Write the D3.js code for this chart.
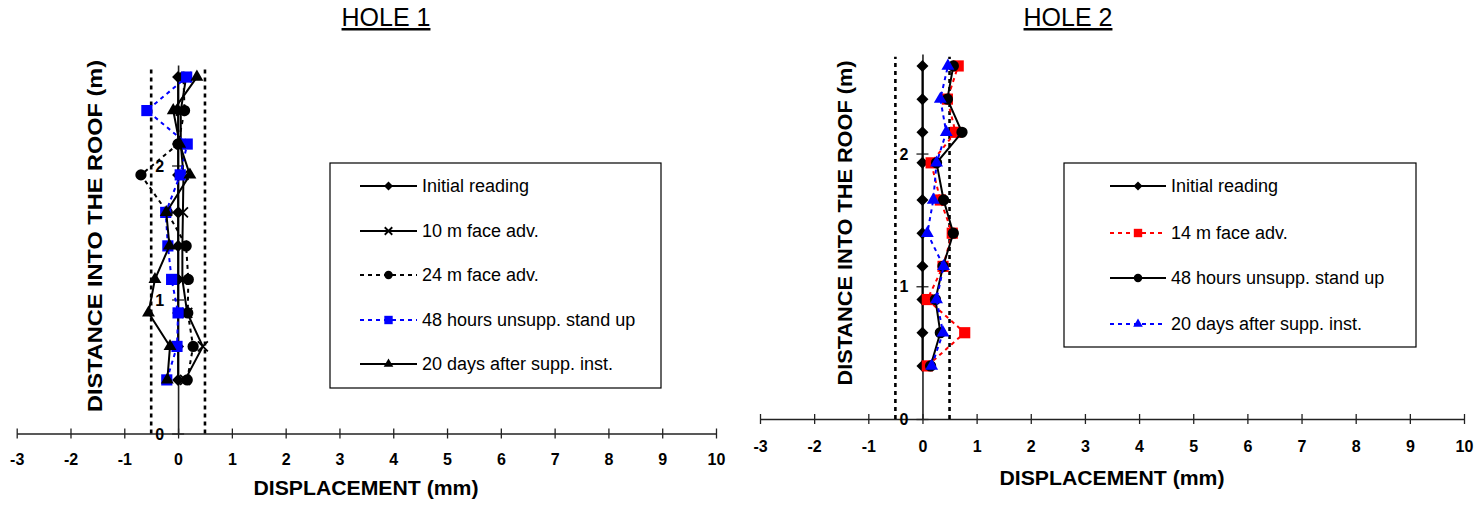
<!DOCTYPE html>
<html>
<head>
<meta charset="utf-8">
<script src="https://cdn.jsdelivr.net/npm/d3@7"></script>
<style>
  html, body { margin: 0; padding: 0; background: #fff; }
  svg { display: block; font-family: "Liberation Sans", Arial, sans-serif; }
</style>
</head>
<body>
<svg id="chart" width="1482" height="506"></svg>
<script>
// ---------- data ----------
const depths = [0.40, 0.65, 0.90, 1.15, 1.40, 1.65, 1.93, 2.16, 2.41, 2.66];
const xTicks = [-3, -2, -1, 0, 1, 2, 3, 4, 5, 6, 7, 8, 9, 10];
const yTicks = [0, 1, 2];
const limitLines = [-0.5, 0.5];

// Hole 1
const h1Initial = [0, 0, 0, 0, 0, 0, 0, 0, 0, 0];
const h1Face10  = [0.13, 0.46, 0.17, 0.08, 0.08, 0.09, 0.10, 0.05, 0.05, 0.15];
const h1Face24  = [0.17, 0.28, 0.18, 0.19, 0.15, -0.20, -0.69, 0.00, 0.12, 0.10];
const h1Hours48 = [-0.21, -0.02, 0.00, -0.12, -0.19, -0.23, 0.04, 0.17, -0.58, 0.16];
const h1Days20  = [-0.20, -0.15, -0.55, -0.43, -0.16, -0.22, 0.22, 0.03, -0.09, 0.35];
const h1Labels  = ["Initial reading", "10 m face adv.", "24 m face adv.", "48 hours unsupp. stand up", "20 days after supp. inst."];

// Hole 2
const h2Initial = [0, 0, 0, 0, 0, 0, 0, 0, 0, 0];
const h2Face14  = [0.09, 0.78, 0.09, 0.38, 0.55, 0.33, 0.16, 0.61, 0.46, 0.66];
const h2Hours48 = [0.15, 0.33, 0.24, 0.38, 0.57, 0.39, 0.26, 0.73, 0.46, 0.57];
const h2Days20  = [0.17, 0.38, 0.26, 0.39, 0.09, 0.20, 0.26, 0.44, 0.33, 0.47];
const h2Labels  = ["Initial reading", "14 m face adv.", "48 hours unsupp. stand up", "20 days after supp. inst."];

// ---------- styles ----------
const ST = {
  diamond:  {marker: "diamond",  color: "#000", dash: null},
  cross:    {marker: "cross",    color: "#000", dash: null},
  circleD:  {marker: "circle",   color: "#000", dash: "4,4"},
  circleS:  {marker: "circle",   color: "#000", dash: null},
  squareB:  {marker: "square",   color: "#0000ff", dash: "4,4"},
  squareR:  {marker: "square",   color: "#ff0000", dash: "4,4"},
  triK:     {marker: "triangle", color: "#000", dash: null},
  triB:     {marker: "triangle", color: "#0000ff", dash: "4,4"}
};

const panels = [
  {
    title: "HOLE 1", titleX: 386, titleY: 26,
    xr: [16.7, 716], yr: [433.5, 65],
    yTitleX: 95, yTitleY: 236, yTitleLen: 352,
    xTitleX: 366, xTitleY: 495,
    tickLabelDy: 31,
    series: [
      {vals: h1Initial, st: ST.diamond},
      {vals: h1Face10,  st: ST.cross},
      {vals: h1Face24,  st: ST.circleD},
      {vals: h1Hours48, st: ST.squareB},
      {vals: h1Days20,  st: ST.triK}
    ],
    labels: h1Labels,
    legend: {x0: 330, y0: 163, x1: 661, y1: 388, lx0: 360, lx1: 417, tx: 422, rows: [186, 231, 275, 320, 364]}
  },
  {
    title: "HOLE 2", titleX: 1068, titleY: 26,
    xr: [760, 1464], yr: [419, 54],
    yTitleX: 845, yTitleY: 223, yTitleLen: 325,
    xTitleX: 1112, xTitleY: 485,
    tickLabelDy: 33,
    series: [
      {vals: h2Initial, st: ST.diamond},
      {vals: h2Face14,  st: ST.squareR},
      {vals: h2Hours48, st: ST.circleS},
      {vals: h2Days20,  st: ST.triB}
    ],
    labels: h2Labels,
    legend: {x0: 1064, y0: 163, x1: 1416, y1: 347, lx0: 1110, lx1: 1166, tx: 1171, rows: [186, 233, 278, 324]}
  }
];

const svg = d3.select("#chart");
const fmt = d => String(d); // hyphen-minus like the reference

function drawMarker(g, type, color, big) {
  const k = big ? 1 : 0.75;
  if (type === "diamond") {
    g.append("path").attr("d", d3.symbol(d3.symbolSquare, 72 * k * k)())
      .attr("transform", "rotate(45)").attr("fill", color);
  } else if (type === "square") {
    g.append("path").attr("d", d3.symbol(d3.symbolSquare, 125 * k * k)()).attr("fill", color);
  } else if (type === "circle") {
    g.append("path").attr("d", d3.symbol(d3.symbolCircle, 100 * k * k)()).attr("fill", color);
  } else if (type === "triangle") {
    g.append("path").attr("d", d3.symbol(d3.symbolTriangle, 72 * k * k)()).attr("fill", color);
  } else if (type === "cross") {
    const s = 5 * k;
    g.append("path").attr("d", `M${-s},${-s}L${s},${s}M${-s},${s}L${s},${-s}`)
      .attr("stroke", color).attr("stroke-width", 1.8).attr("fill", "none");
  }
}

panels.forEach(p => {
  const x = d3.scaleLinear().domain([-3, 10]).range(p.xr);
  const y = d3.scaleLinear().domain([0, 2.75]).range(p.yr);
  const g = svg.append("g");

  // title
  g.append("text").attr("x", p.titleX).attr("y", p.titleY)
    .attr("text-anchor", "middle").attr("font-size", 25)
    .attr("text-decoration", "underline").attr("fill", "#000").text(p.title);

  // x axis
  const xa = g.append("g").attr("transform", `translate(0,${y(0)})`)
    .call(d3.axisBottom(x).tickValues(xTicks).tickFormat(fmt).tickSize(5).tickSizeOuter(0));
  xa.select(".domain").attr("stroke", "#222").attr("stroke-width", 1.6);
  xa.selectAll(".tick line").attr("y1", -5).attr("y2", 5).attr("stroke", "#222").attr("stroke-width", 1.3);
  xa.selectAll(".tick text").attr("y", p.tickLabelDy).attr("dy", 0)
    .attr("font-size", 16).attr("font-weight", "bold").attr("fill", "#000")
    .attr("font-family", "'Liberation Sans', Arial, sans-serif");

  // limit lines
  g.selectAll(".lim").data(limitLines).enter().append("line")
    .attr("x1", d => x(d)).attr("x2", d => x(d))
    .attr("y1", y(0)).attr("y2", y(2.73))
    .attr("stroke", "#000").attr("stroke-width", 2.6).attr("stroke-dasharray", "4,4");

  // y axis
  const ya = g.append("g").attr("transform", `translate(${x(0)},0)`)
    .call(d3.axisLeft(y).tickValues(yTicks).tickFormat(fmt).tickSize(6).tickSizeOuter(0));
  ya.select(".domain").attr("stroke", "#222").attr("stroke-width", 1.6);
  ya.selectAll(".tick line").attr("x1", -6).attr("x2", 6).attr("stroke", "#222").attr("stroke-width", 1.3);
  ya.selectAll(".tick text").attr("x", -14).attr("dy", "0.35em")
    .attr("font-size", 16).attr("font-weight", "bold").attr("fill", "#000")
    .attr("font-family", "'Liberation Sans', Arial, sans-serif");

  // axis titles
  g.append("text").attr("x", p.xTitleX).attr("y", p.xTitleY)
    .attr("text-anchor", "middle").attr("font-size", 21).attr("font-weight", "bold")
    .attr("fill", "#000").attr("textLength", 225).attr("lengthAdjust", "spacingAndGlyphs")
    .text("DISPLACEMENT (mm)");
  g.append("text")
    .attr("transform", `translate(${p.yTitleX},${p.yTitleY}) rotate(-90)`)
    .attr("text-anchor", "middle").attr("dy", "0.35em")
    .attr("font-size", 21).attr("font-weight", "bold").attr("fill", "#000")
    .attr("textLength", p.yTitleLen).attr("lengthAdjust", "spacingAndGlyphs")
    .text("DISTANCE INTO THE ROOF (m)");

  // series
  const line = d3.line().x(d => x(d[0])).y(d => y(d[1]));
  p.series.forEach(s => {
    const pts = s.vals.map((v, i) => [v, depths[i]]);
    g.append("path").attr("d", line(pts)).attr("fill", "none")
      .attr("stroke", s.st.color).attr("stroke-width", 2)
      .attr("stroke-dasharray", s.st.dash);
    pts.forEach(pt => {
      const mg = g.append("g").attr("transform", `translate(${x(pt[0])},${y(pt[1])})`);
      drawMarker(mg, s.st.marker, s.st.color, true);
    });
  });

  // legend
  const L = p.legend;
  g.append("rect").attr("x", L.x0).attr("y", L.y0)
    .attr("width", L.x1 - L.x0).attr("height", L.y1 - L.y0)
    .attr("fill", "#fff").attr("stroke", "#000").attr("stroke-width", 1.2);
  p.series.forEach((s, i) => {
    const ry = L.rows[i];
    g.append("line").attr("x1", L.lx0).attr("x2", L.lx1).attr("y1", ry).attr("y2", ry)
      .attr("stroke", s.st.color).attr("stroke-width", 2)
      .attr("stroke-dasharray", s.st.dash);
    const mg = g.append("g").attr("transform", `translate(${(L.lx0 + L.lx1) / 2},${ry})`);
    drawMarker(mg, s.st.marker, s.st.color, false);
    g.append("text").attr("x", L.tx).attr("y", ry).attr("dy", "0.35em")
      .attr("font-size", 18).attr("fill", "#000").text(p.labels[i]);
  });
});
</script>
</body>
</html>
